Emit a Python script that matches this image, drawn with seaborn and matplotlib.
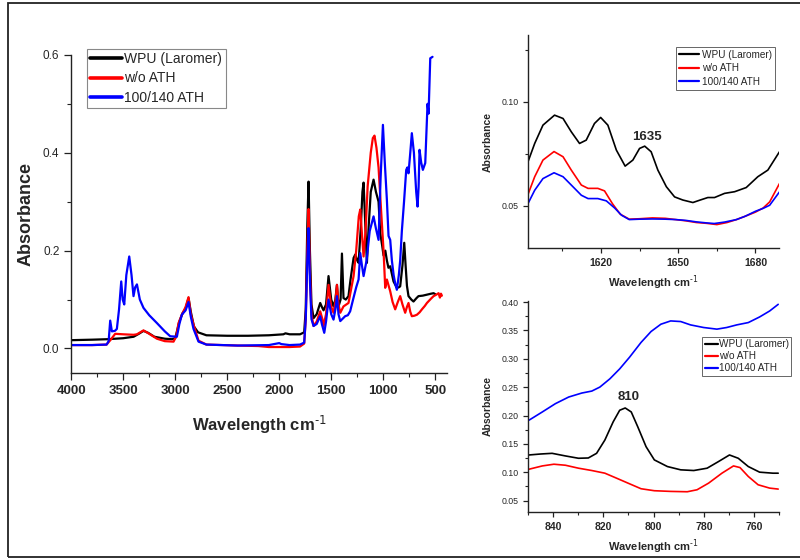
import matplotlib
matplotlib.use("Agg")
import matplotlib.pyplot as plt
from matplotlib.patches import Rectangle
from matplotlib.ticker import MultipleLocator, FormatStrFormatter
import pandas as pd
import seaborn as sns

# ---------------- series names / colours ----------------
series_names = ["WPU (Laromer)", "w/o ATH", "100/140 ATH"]
series_colors = ["#000000", "#ff0000", "#0000ff"]

# ---------------- full FTIR spectra (wavenumber, absorbance) ----------------
wpu_wn = [4000, 3800, 3650, 3500, 3400, 3350, 3305, 3260, 3200, 3100, 3030, 3000,
          2960, 2930, 2900, 2872, 2850, 2820, 2780, 2700, 2500, 2300, 2100, 1960,
          1940, 1900, 1800, 1760, 1745, 1730, 1718, 1705, 1690, 1670, 1640, 1606,
          1590, 1574, 1550, 1526, 1500, 1478, 1460, 1445, 1430, 1410, 1397, 1382,
          1360, 1334, 1315, 1301, 1285, 1269, 1250, 1237, 1215, 1200, 1189, 1170,
          1157, 1140, 1120, 1093, 1070, 1045, 1029, 1010, 997, 980, 965, 950, 933,
          901, 869, 850, 837, 815, 798, 785, 772, 757, 730, 709, 680, 661, 620,
          580, 540, 516, 500]
wpu_abs = [0.017, 0.018, 0.019, 0.021, 0.024, 0.030, 0.036, 0.032, 0.024, 0.020, 0.019, 0.021,
           0.055, 0.072, 0.082, 0.103, 0.075, 0.045, 0.033, 0.027, 0.026, 0.026, 0.027, 0.029,
           0.031, 0.029, 0.029, 0.033, 0.080, 0.250, 0.341, 0.200, 0.090, 0.062, 0.070, 0.093,
           0.085, 0.078, 0.090, 0.148, 0.100, 0.086, 0.100, 0.130, 0.086, 0.100, 0.194, 0.103,
           0.100, 0.107, 0.140, 0.161, 0.185, 0.192, 0.180, 0.175, 0.250, 0.320, 0.339, 0.240,
           0.175, 0.250, 0.320, 0.345, 0.320, 0.300, 0.236, 0.210, 0.190, 0.200, 0.180, 0.165, 0.168,
           0.137, 0.124, 0.125, 0.127, 0.170, 0.216, 0.170, 0.128, 0.107, 0.100, 0.096, 0.103, 0.107, 0.108,
           0.110, 0.112, 0.113, 0.111]

woath_wn = [4000, 3800, 3660, 3620, 3577, 3500, 3400, 3368, 3305, 3250, 3176, 3100,
            3016, 2990, 2968, 2936, 2900, 2872, 2850, 2824, 2776, 2700, 2400, 2200,
            2100, 1900, 1800, 1760, 1745, 1730, 1718, 1705, 1690, 1670, 1640, 1606,
            1585, 1574, 1550, 1526, 1500, 1478, 1460, 1445, 1430, 1413, 1382, 1334,
            1310, 1285, 1260, 1235, 1221, 1200, 1189, 1170, 1150, 1120, 1100, 1084,
            1065, 1045, 1020, 997, 981, 965, 933, 910, 885, 860, 837, 815, 789, 772,
            757, 740, 725, 700, 676, 650, 628, 600, 580, 540, 516, 490, 468, 455, 445, 436]
woath_abs = [0.007, 0.007, 0.008, 0.018, 0.030, 0.029, 0.028, 0.029, 0.037, 0.030, 0.020, 0.015,
             0.014, 0.025, 0.052, 0.069, 0.085, 0.105, 0.070, 0.049, 0.016, 0.008, 0.006, 0.005,
             0.003, 0.003, 0.004, 0.010, 0.060, 0.200, 0.285, 0.160, 0.070, 0.046, 0.055, 0.076,
             0.060, 0.046, 0.070, 0.130, 0.085, 0.073, 0.095, 0.130, 0.090, 0.073, 0.086, 0.093,
             0.120, 0.148, 0.200, 0.270, 0.284, 0.220, 0.188, 0.240, 0.331, 0.400, 0.430, 0.435,
             0.410, 0.370, 0.280, 0.200, 0.124, 0.141, 0.117, 0.095, 0.080, 0.095, 0.107, 0.090, 0.073, 0.085,
             0.093, 0.075, 0.066, 0.067, 0.069, 0.074, 0.080, 0.087, 0.093, 0.102, 0.107, 0.110, 0.113, 0.104, 0.112, 0.108]

ath_wn = [4000, 3800, 3660, 3640, 3625, 3609, 3580, 3561, 3540, 3519, 3505, 3490,
          3470, 3442, 3420, 3401, 3385, 3368, 3340, 3305, 3250, 3176, 3100, 3048,
          2984, 2960, 2936, 2900, 2872, 2850, 2824, 2776, 2700, 2400, 2100, 2000,
          1980, 1900, 1800, 1760, 1745, 1730, 1718, 1705, 1690, 1670, 1640, 1606,
          1590, 1567, 1550, 1526, 1500, 1478, 1460, 1445, 1430, 1413, 1366, 1340,
          1318, 1290, 1260, 1237, 1221, 1205, 1189, 1160, 1130, 1093, 1070, 1045,
          1025, 1003, 985, 965, 949, 933, 917, 900, 885, 869, 850, 837, 821, 800,
          779, 768, 757, 740, 725, 705, 683, 670, 660, 651, 635, 619, 596, 585,
          574, 564, 548, 526]
ath_abs = [0.007, 0.007, 0.008, 0.015, 0.057, 0.035, 0.036, 0.040, 0.080, 0.137, 0.100, 0.090,
           0.150, 0.188, 0.150, 0.107, 0.125, 0.131, 0.100, 0.083, 0.068, 0.052, 0.035, 0.025,
           0.024, 0.050, 0.069, 0.078, 0.095, 0.065, 0.040, 0.014, 0.008, 0.006, 0.007, 0.011,
           0.009, 0.007, 0.008, 0.012, 0.060, 0.180, 0.246, 0.140, 0.060, 0.046, 0.050, 0.066,
           0.050, 0.032, 0.055, 0.100, 0.070, 0.059, 0.080, 0.107, 0.070, 0.056, 0.066, 0.068,
           0.076, 0.100, 0.125, 0.141, 0.195, 0.170, 0.148, 0.180, 0.240, 0.270, 0.245, 0.222,
           0.350, 0.457, 0.380, 0.304, 0.230, 0.222, 0.180, 0.150, 0.133, 0.120, 0.150, 0.180, 0.240, 0.300,
           0.365, 0.370, 0.358, 0.400, 0.440, 0.400, 0.320, 0.290, 0.330, 0.406, 0.380, 0.365, 0.379, 0.440,
           0.500, 0.480, 0.593, 0.596]

# ---------------- 1590-1690 cm-1 region ----------------
c1_wpu_wn = [1591.7, 1594.3, 1597.5, 1602.0, 1605.3, 1608.5, 1611.7, 1614.3, 1617.5, 1619.9,
             1622.7, 1626.0, 1629.4, 1632.4, 1635.0, 1637.0, 1639.5, 1642.1, 1645.4, 1648.6,
             1651.8, 1655.7, 1658.3, 1661.5, 1664.1, 1668.0, 1671.9, 1676.4, 1680.9, 1684.8, 1689.3]
c1_wpu_abs = [0.0712, 0.0800, 0.0888, 0.0936, 0.0920, 0.0856, 0.0800, 0.0816, 0.0896, 0.0925,
              0.0888, 0.0768, 0.0691, 0.0720, 0.0776, 0.0787, 0.0760, 0.0672, 0.0592, 0.0543,
              0.0528, 0.0516, 0.0527, 0.0540, 0.0540, 0.0560, 0.0568, 0.0588, 0.0640, 0.0672, 0.0760]
c1_wo_wn = [1591.7, 1594.3, 1597.5, 1601.8, 1605.3, 1608.5, 1612.4, 1615.0, 1618.8, 1621.4,
            1624.5, 1627.5, 1631.0, 1635.0, 1640.0, 1645.0, 1649.0, 1653.0, 1657.0, 1661.0,
            1665.0, 1669.0, 1672.6, 1676.0, 1680.0, 1683.0, 1685.5, 1689.3]
c1_wo_abs = [0.0555, 0.0640, 0.0720, 0.0761, 0.0736, 0.0672, 0.0600, 0.0584, 0.0584, 0.0572,
             0.0510, 0.0460, 0.0436, 0.0438, 0.0442, 0.0440, 0.0434, 0.0428, 0.0420, 0.0416,
             0.0410, 0.0420, 0.0434, 0.0450, 0.0470, 0.0490, 0.0519, 0.0607]
c1_ath_wn = [1591.7, 1594.3, 1597.5, 1601.8, 1605.3, 1608.5, 1612.4, 1615.0, 1618.8, 1622.1,
             1625.3, 1628.0, 1631.0, 1635.0, 1640.0, 1645.0, 1649.0, 1653.0, 1657.0, 1661.0,
             1664.0, 1668.0, 1672.6, 1676.0, 1680.0, 1683.0, 1685.5, 1689.3]
c1_ath_abs = [0.0511, 0.0575, 0.0631, 0.0659, 0.0640, 0.0600, 0.0551, 0.0535, 0.0535, 0.0524,
              0.0490, 0.0455, 0.0434, 0.0436, 0.0437, 0.0436, 0.0434, 0.0430, 0.0423, 0.0418,
              0.0415, 0.0422, 0.0434, 0.0450, 0.0474, 0.0488, 0.0503, 0.0567]

# ---------------- 750-850 cm-1 region ----------------
c2_wpu_wn = [849.6, 845.0, 840.4, 835.1, 829.9, 826.0, 822.7, 819.4, 816.1, 813.5, 811.3,
             808.9, 806.3, 803.0, 799.7, 794.5, 789.2, 784.0, 778.7, 774.2, 769.8, 766.3,
             762.3, 757.8, 752.5, 750.4]
c2_wpu_abs = [0.1305, 0.1322, 0.1334, 0.1288, 0.1247, 0.1252, 0.1334, 0.1568, 0.1888, 0.2093, 0.2133,
              0.2063, 0.1801, 0.1451, 0.1218, 0.1101, 0.1043, 0.1031, 0.1072, 0.1188, 0.1305, 0.1247,
              0.1101, 0.1002, 0.0984, 0.0984]
c2_wo_wn = [849.6, 844.3, 839.7, 835.1, 829.9, 824.6, 819.4, 814.8, 810.2, 805.0, 799.7,
            793.2, 786.6, 782.7, 778.1, 772.8, 768.2, 765.6, 762.3, 758.4, 753.8, 750.4]
c2_wo_abs = [0.1054, 0.1112, 0.1142, 0.1124, 0.1072, 0.1031, 0.0984, 0.0897, 0.0809, 0.0710, 0.0675,
             0.0663, 0.0657, 0.0692, 0.0809, 0.0984, 0.1112, 0.1083, 0.0926, 0.0780, 0.0721, 0.0704]
c2_ath_wn = [849.6, 844.3, 839.1, 833.8, 828.6, 824.6, 821.4, 817.4, 813.5, 809.6, 805.0,
             801.0, 797.1, 793.2, 789.2, 785.3, 780.1, 774.8, 770.9, 766.9, 762.3, 757.8,
             753.8, 750.4]
c2_ath_abs = [0.1918, 0.2063, 0.2209, 0.2326, 0.2396, 0.2431, 0.2501, 0.2647, 0.2822, 0.3026, 0.3288,
              0.3481, 0.3609, 0.3667, 0.3656, 0.3597, 0.3551, 0.3522, 0.3551, 0.3597, 0.3638, 0.3737,
              0.3842, 0.3959]

# peak labels (position of the text)
label_1635 = ("1635", 1638.0, 0.0830)
label_810 = ("810", 810.0, 0.2320)


def long_frame(wns, absorbances):
    parts = []
    for name, wn, ab in zip(series_names, wns, absorbances):
        parts.append(pd.DataFrame({"wn": wn, "abs": ab, "sample": name}))
    return pd.concat(parts, ignore_index=True)


full_df = long_frame([wpu_wn, woath_wn, ath_wn], [wpu_abs, woath_abs, ath_abs])
c1_df = long_frame([c1_wpu_wn, c1_wo_wn, c1_ath_wn], [c1_wpu_abs, c1_wo_abs, c1_ath_abs])
c2_df = long_frame([c2_wpu_wn, c2_wo_wn, c2_ath_wn], [c2_wpu_abs, c2_wo_abs, c2_ath_abs])

sns.set_theme(style="ticks")
plt.rcParams["font.family"] = ["Liberation Sans", "DejaVu Sans"]
plt.rcParams["mathtext.default"] = "regular"
palette = dict(zip(series_names, series_colors))
xlabel_text = r"Wavelength cm$^{\text{-1}}$"

fig = plt.figure(figsize=(8.0, 5.6), dpi=100)
fig.patch.set_facecolor("white")

# outer frame
fig.add_artist(Rectangle((0.0105, 0.005), 1.2, 0.989, transform=fig.transFigure,
                         fill=False, edgecolor="#222222", linewidth=1.3))


def style_axes(ax, xsize, ysize, major_len, minor_len):
    for side in ("top", "right"):
        ax.spines[side].set_visible(False)
    for side in ("left", "bottom"):
        ax.spines[side].set_linewidth(1.0)
        ax.spines[side].set_color("#222222")
    ax.tick_params(which="major", direction="out", length=major_len, width=0.9, color="#222222")
    ax.tick_params(which="minor", direction="out", length=minor_len, width=0.8, color="#222222")
    ax.tick_params(axis="x", labelsize=xsize)
    ax.tick_params(axis="y", labelsize=ysize)
    for lab in ax.get_xticklabels():
        lab.set_fontweight("bold")
    ax.set_facecolor("white")
    ax.grid(False)


def style_legend(leg, handle_lw, frame_lw):
    for line in leg.get_lines():
        line.set_linewidth(handle_lw)
    leg.get_frame().set_linewidth(frame_lw)


# ---------------- main spectrum ----------------
ax = fig.add_axes([0.089, 0.334, 0.470, 0.568])
sns.lineplot(data=full_df, x="wn", y="abs", hue="sample", palette=palette,
             estimator=None, sort=False, linewidth=1.6, ax=ax)
ax.set_xlim(4000, 385)
ax.set_ylim(-0.05, 0.6)
ax.xaxis.set_major_locator(MultipleLocator(500))
ax.xaxis.set_minor_locator(MultipleLocator(250))
ax.yaxis.set_major_locator(MultipleLocator(0.2))
ax.yaxis.set_minor_locator(MultipleLocator(0.1))
ax.yaxis.set_major_formatter(FormatStrFormatter("%.1f"))
style_axes(ax, 9.5, 8.5, 5, 3)
ax.set_xlabel(xlabel_text, fontsize=12, fontweight="bold", labelpad=12)
ax.set_ylabel("Absorbance", fontsize=13, fontweight="bold", labelpad=6)
leg = ax.legend(loc="upper left", bbox_to_anchor=(0.042, 1.019), fontsize=10, frameon=True,
                fancybox=False, edgecolor="#888888", framealpha=1, handlelength=2.3,
                handletextpad=0.15, borderpad=0.25, labelspacing=0.37, borderaxespad=0)
style_legend(leg, 2.6, 0.8)

# ---------------- 1590-1690 cm-1 detail ----------------
ax1 = fig.add_axes([0.660, 0.557, 0.314, 0.380])
sns.lineplot(data=c1_df, x="wn", y="abs", hue="sample", palette=palette,
             estimator=None, sort=False, linewidth=1.2, ax=ax1)
ax1.set_xlim(1591.7, 1689.2)
ax1.set_ylim(0.0297, 0.132)
ax1.xaxis.set_major_locator(MultipleLocator(30))
ax1.xaxis.set_minor_locator(MultipleLocator(15))
ax1.yaxis.set_major_locator(MultipleLocator(0.05))
ax1.yaxis.set_minor_locator(MultipleLocator(0.025))
ax1.yaxis.set_major_formatter(FormatStrFormatter("%.2f"))
style_axes(ax1, 7.5, 6.3, 3.5, 2)
ax1.set_xlabel(xlabel_text, fontsize=8, fontweight="bold", labelpad=4)
ax1.set_ylabel("Absorbance", fontsize=7.5, fontweight="bold", labelpad=6)
ax1.text(label_1635[1], label_1635[2], label_1635[0], fontsize=9.5, fontweight="bold",
         ha="center", va="center")
leg1 = ax1.legend(loc="upper right", bbox_to_anchor=(0.985, 0.945), fontsize=7.2, frameon=True,
                  fancybox=False, edgecolor="#666666", framealpha=1, handlelength=2.0,
                  handletextpad=0.3, borderpad=0.3, labelspacing=0.35, borderaxespad=0)
style_legend(leg1, 1.6, 0.7)

# ---------------- 750-850 cm-1 detail ----------------
ax2 = fig.add_axes([0.660, 0.0857, 0.314, 0.377])
sns.lineplot(data=c2_df, x="wn", y="abs", hue="sample", palette=palette,
             estimator=None, sort=False, linewidth=1.2, ax=ax2)
ax2.set_xlim(850, 750)
ax2.set_ylim(0.03, 0.402)
ax2.xaxis.set_major_locator(MultipleLocator(20))
ax2.xaxis.set_minor_locator(MultipleLocator(10))
ax2.yaxis.set_major_locator(MultipleLocator(0.05))
ax2.yaxis.set_minor_locator(MultipleLocator(0.025))
ax2.yaxis.set_major_formatter(FormatStrFormatter("%.2f"))
style_axes(ax2, 7.5, 6.3, 3.5, 2)
ax2.set_xlabel(xlabel_text, fontsize=8, fontweight="bold", labelpad=4)
ax2.set_ylabel("Absorbance", fontsize=7.5, fontweight="bold", labelpad=6)
ax2.text(label_810[1], label_810[2], label_810[0], fontsize=9.5, fontweight="bold",
         ha="center", va="center")
leg2 = ax2.legend(loc="upper right", bbox_to_anchor=(1.048, 0.829), fontsize=7.2, frameon=True,
                  fancybox=False, edgecolor="#666666", framealpha=1, handlelength=1.3,
                  handletextpad=0.1, borderpad=0.25, labelspacing=0.2, borderaxespad=0)
style_legend(leg2, 1.6, 0.7)

fig.savefig("out.png", dpi=100, facecolor="white")
